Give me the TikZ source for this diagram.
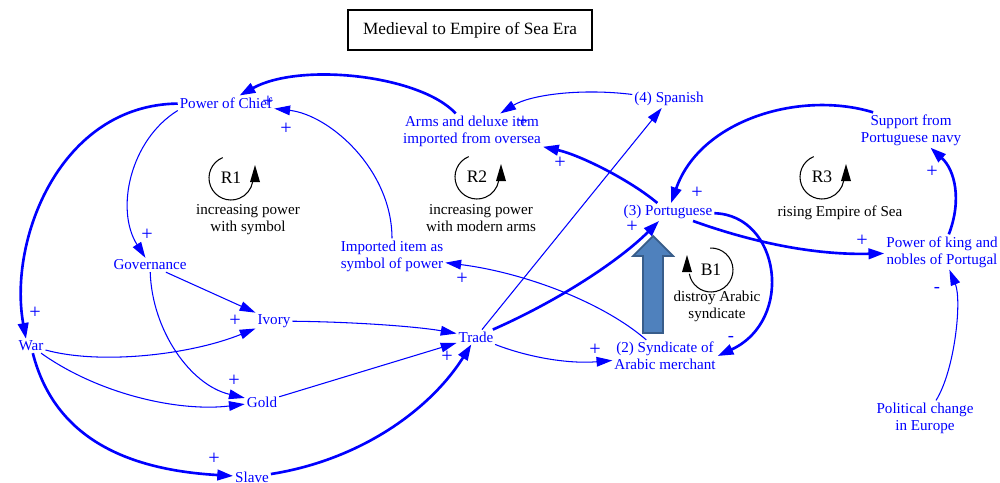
\documentclass[tikz,border=0pt]{standalone}
\usepackage{fontspec}
\setmainfont{Liberation Serif}
\usetikzlibrary{arrows.meta}
\definecolor{cldblue}{RGB}{0,0,255}
\definecolor{blockfill}{RGB}{79,129,189}
\definecolor{blockedge}{RGB}{56,93,138}

\tikzset{
  var/.style={text=cldblue, font=\fontsize{8.6}{9.8}\selectfont, align=center, inner sep=1pt},
  pol/.style={text=cldblue, font=\fontsize{11.5}{12}\selectfont, inner sep=0pt},
  neg/.style={text=cldblue, font=\fontsize{10.5}{11}\selectfont, inner sep=0pt},
  link/.style={draw=cldblue, line width=0.6pt, -{Triangle[length=9pt,width=5.5pt]}},
  strong/.style={draw=cldblue, line width=1.5pt, -{Triangle[length=9pt,width=6pt]}},
  loopnote/.style={font=\fontsize{8.6}{9.6}\selectfont, align=center, inner sep=0pt},
  looptag/.style={font=\fontsize{10}{12}\selectfont, inner sep=0pt},
  titlebox/.style={draw, line width=0.6pt, font=\fontsize{9.8}{11}\selectfont, minimum width=244*0.02cm, minimum height=40*0.02cm},
  % counter-clockwise (reinforcing) loop marker
  pics/ccwloop/.style={code={
    \begin{scope}[y=0.02cm]
      \draw[line width=0.6pt] (112:22) arc[start angle=112, end angle=350, radius=22];
      \fill (19,-4) -- (29,-4) -- (24,13) -- cycle;
    \end{scope}
    \node[looptag] (-tag) {#1};
  }},
  % clockwise (balancing) loop marker
  pics/cwloop/.style={code={
    \begin{scope}[y=0.02cm]
      \draw[line width=0.6pt] (92:22) arc[start angle=92, end angle=-170, radius=22];
      \fill (-29,-2) -- (-19,-2) -- (-24,15) -- cycle;
    \end{scope}
    \node[looptag] (-tag) {#1};
  }},
}

\begin{document}
\begin{tikzpicture}[x=0.02cm, y=-0.02cm]
\useasboundingbox (0,0) rectangle (1000,483);

% title
\node[titlebox] (title) at (470,30) {Medieval to Empire of Sea Era};

% variables
\node[var] (chief)     at (226,103) {Power of Chief};
\node[var] (arms)      at (472,131) {Arms and deluxe item\\imported from oversea};
\node[var] (spanish)   at (669,99)  {(4) Spanish};
\node[var] (support)   at (911,130) {Support from\\Portuguese navy};
\node[var] (port)      at (668,212) {(3) Portuguese};
\node[var] (king)      at (942,252) {Power of king and\\nobles of Portugal};
\node[var] (gov)       at (150,265) {Governance};
\node[var] (imported)  at (392,256) {Imported item as\\symbol of power};
\node[var] (ivory)     at (274,321) {Ivory};
\node[var] (war)       at (31,346)  {War};
\node[var] (trade)     at (476,337) {Trade};
\node[var] (synd)      at (665,356) {(2) Syndicate of\\Arabic merchant};
\node[var] (gold)      at (262,402) {Gold};
\node[var] (slave)     at (252,477) {Slave};
\node[var] (political) at (925,418) {Political change\\in Europe};

% loop markers
\pic (r1) at (231,178) {ccwloop=R1};
\pic (r2) at (477,177) {ccwloop=R2};
\pic (r3) at (822,177) {ccwloop=R3};
\pic (b1) at (711,270) {cwloop=B1};
\node[loopnote] (r1note) at (248,220) {increasing power\\with symbol};
\node[loopnote] (r2note) at (481,218) {increasing power\\with modern arms};
\node[loopnote] (r3note) at (840,213) {rising Empire of Sea};
\node[loopnote] (b1note) at (717,306) {distroy Arabic\\syndicate};

% causal links
\draw[strong] (arms) .. controls (420,75) and (300,62) .. (chief);
\draw[link] (imported) .. controls (392,170) and (330,115) .. (chief);
\draw[strong] (chief) .. controls (60,105) and (8,240) .. (war.125);
\draw[link] (chief.south west) .. controls (130,140) and (115,210) .. (gov);
\draw[link] (gov) -- (ivory);
\draw[link] (gov) .. controls (152,330) and (190,385) .. (gold);
\draw[link] (war) .. controls (100,365) and (190,355) .. (ivory);
\draw[link] (war) .. controls (100,395) and (180,412) .. (gold);
\draw[strong] (war) .. controls (55,440) and (130,470) .. (slave);
\draw[strong] (slave) .. controls (360,460) and (430,410) .. (trade);
\draw[link] (ivory) .. controls (360,322) and (420,327) .. (trade);
\draw[link] (gold) -- (trade);
\draw[link] (trade) .. controls (530,358) and (570,364) .. (synd);
\draw[strong] (trade) .. controls (560,300) and (620,260) .. (port);
\draw[link] (trade) -- (spanish);
\draw[link] (synd) .. controls (600,300) and (520,272) .. (imported);
\draw[link] (spanish) .. controls (580,88) and (530,95) .. (arms);
\draw[strong] (port) .. controls (630,180) and (580,155) .. (arms);
\draw[strong] (support.155) .. controls (800,90) and (700,120) .. (port);
\draw[strong] (port) .. controls (760,245) and (820,255) .. (king);
\draw[strong] (king) .. controls (962,200) and (955,170) .. (support);
\draw[strong] (port) .. controls (780,215) and (795,320) .. (synd.east);
\draw[link] (political) .. controls (955,370) and (962,300) .. (king);

% polarity signs
\node[pol] (p1)  at (268,102) {+};
\node[pol] (p2)  at (286,129) {+};
\node[pol] (p3)  at (147,235) {+};
\node[pol] (p4)  at (35,313)  {+};
\node[pol] (p5)  at (235,321) {+};
\node[pol] (p6)  at (234,381) {+};
\node[pol] (p7)  at (214,459) {+};
\node[pol] (p8)  at (447,357) {+};
\node[pol] (p9)  at (462,279) {+};
\node[pol] (p10) at (560,163) {+};
\node[pol] (p11) at (632,227) {+};
\node[pol] (p12) at (595,350) {+};
\node[pol] (p13) at (697,193) {+};
\node[pol] (p14) at (862,241) {+};
\node[pol] (p15) at (932,172) {+};
\node[pol] (p16) at (523,122) {+};
\node[neg] (m1)  at (731,339) {-};
\node[neg] (m2)  at (937,290) {-};

% block arrow from the Arabic syndicate up to the Portuguese
\draw[fill=blockfill, draw=blockedge, line width=1pt]
  (643,333) -- (663,333) -- (663,256) -- (673,256) -- (653,236)
  -- (633,256) -- (643,256) -- cycle;
\end{tikzpicture}
\end{document}
